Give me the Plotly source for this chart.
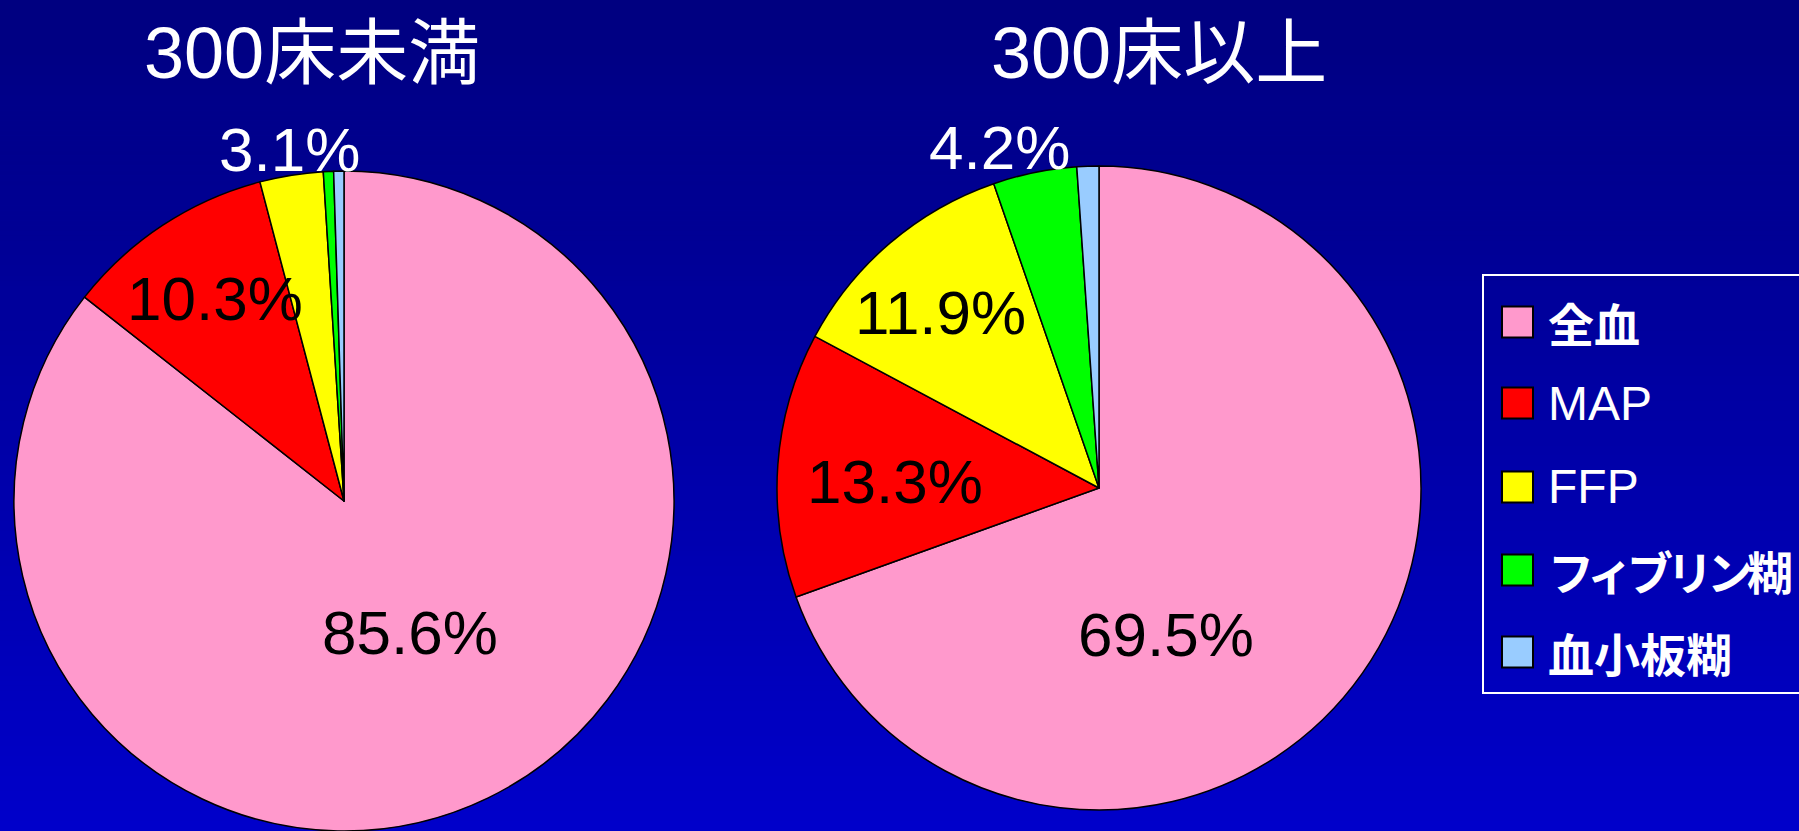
import plotly.graph_objects as go

# Blood product usage share by hospital size
categories = ["全血", "MAP", "FFP", "フィブリン糊", "血小板糊"]
colors = ["#FF99CC", "#FF0000", "#FFFF00", "#00FF00", "#99CCFF"]

small_title = "300床未満"
small_values = [85.6, 10.3, 3.1, 0.5, 0.5]

large_title = "300床以上"
large_values = [69.5, 13.3, 11.9, 4.2, 1.1]

W, H = 1799, 831
FONT = "Liberation Sans, Arial, Noto Sans CJK JP, sans-serif"
CJK = "Noto Sans CJK JP, Liberation Sans, sans-serif"


def px(x):
    return x / W


def py(y):
    return 1 - y / H


fig = go.Figure()

# Pie on the left (under 300 beds)
fig.add_trace(go.Pie(
    labels=categories, values=small_values, sort=False,
    direction="clockwise", rotation=0,
    marker=dict(colors=colors, line=dict(color="black", width=1.5)),
    textinfo="none", hoverinfo="label+percent", showlegend=False,
    domain=dict(x=[px(14), px(674)], y=[py(831), py(171)]),
))

# Pie on the right (300 beds or more)
fig.add_trace(go.Pie(
    labels=categories, values=large_values, sort=False,
    direction="clockwise", rotation=0,
    marker=dict(colors=colors, line=dict(color="black", width=1.5)),
    textinfo="none", hoverinfo="label+percent", showlegend=False,
    domain=dict(x=[px(777), px(1421)], y=[py(810), py(166)]),
))

# Vertical gradient background built from thin bands
shapes = []
bands = 166
top_rgb = (0, 0, 128)
bot_rgb = (0, 0, 202)
for i in range(bands):
    t = i / (bands - 1)
    c = tuple(round(a + (b - a) * t) for a, b in zip(top_rgb, bot_rgb))
    y0 = i * H / bands
    y1 = (i + 1) * H / bands + 0.6
    shapes.append(dict(
        type="rect", xref="paper", yref="paper", layer="below",
        x0=0, x1=1, y0=py(y1), y1=py(y0),
        fillcolor=f"rgb{c}", line=dict(width=0),
    ))

# Legend frame
shapes.append(dict(
    type="rect", xref="paper", yref="paper", layer="above",
    x0=px(1483), x1=px(1830), y0=py(693), y1=py(275),
    line=dict(color="white", width=2), fillcolor="rgba(0,0,0,0)",
))

annotations = []

# Chart titles
for text, cx in [(small_title, 312), (large_title, 1159)]:
    annotations.append(dict(
        text=text, xref="paper", yref="paper", x=px(cx), y=py(53),
        xanchor="center", yanchor="middle", showarrow=False,
        font=dict(family=FONT, size=72, color="white"),
    ))

# Percentage labels: (value, centre x, centre y, colour)
label_specs = [
    (small_values[0], 410, 632, "black"),
    (small_values[1], 215, 299, "black"),
    (small_values[2], 289, 149, "white"),
    (large_values[0], 1166, 634, "black"),
    (large_values[1], 895, 481, "black"),
    (large_values[2], 940, 312, "black"),
    (large_values[3], 999, 148, "white"),
]
for v, cx, cy, col in label_specs:
    annotations.append(dict(
        text=f"{v:.1f}%", xref="paper", yref="paper", x=px(cx), y=py(cy),
        xanchor="center", yanchor="middle", showarrow=False,
        font=dict(family=FONT, size=62, color=col),
    ))

# Legend entries
row_y = [322, 403, 487, 570, 652]
for name, col, ry in zip(categories, colors, row_y):
    shapes.append(dict(
        type="rect", xref="paper", yref="paper", layer="above",
        x0=px(1502), x1=px(1533), y0=py(ry + 15.5), y1=py(ry - 15.5),
        fillcolor=col, line=dict(color="black", width=2),
    ))
    is_latin = name.isascii()
    if is_latin:
        label = name
    elif len(name) > 4:
        # tighten long kana labels so they stay inside the page
        label = f'<b><span style="letter-spacing:-6px">{name}</span></b>'
    else:
        label = f"<b>{name}</b>"
    annotations.append(dict(
        text=label,
        xref="paper", yref="paper", x=px(1546), y=py(ry),
        xanchor="left", yanchor="middle", showarrow=False,
        font=dict(family=FONT if is_latin else CJK,
                  size=48 if is_latin else 46, color="white"),
    ))

fig.update_layout(
    width=W, height=H,
    margin=dict(l=0, r=0, t=0, b=0),
    paper_bgcolor="rgb(0,0,165)",
    plot_bgcolor="rgba(0,0,0,0)",
    shapes=shapes,
    annotations=annotations,
    showlegend=False,
)

fig.write_html("out.html")
